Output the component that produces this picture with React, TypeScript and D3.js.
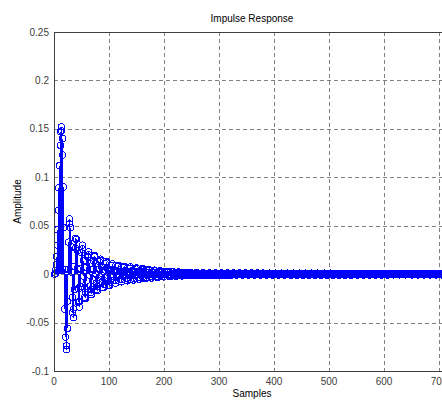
import React from 'react';
import * as d3 from 'd3';

const title = 'Impulse Response';
const xLabel = 'Samples';
const yLabel = 'Amplitude';
const xDomain = [0, 720];
const yDomain = [-0.1, 0.25];
const xTicks = [0, 100, 200, 300, 400, 500, 600, 700];
const yTicks = [-0.1, -0.05, 0, 0.05, 0.1, 0.15, 0.2, 0.25];
const yTickLabels = ['-0.1', '-0.05', '0', '0.05', '0.1', '0.15', '0.2', '0.25'];

// amplitude of each sample, index = sample number
const impulse = [
  0, 0.001, 0.004, 0.010, 0.018, 0.030, 0.046, 0.066, 0.089, 0.112,
  0.133, 0.147, 0.152, 0.148, 0.140, 0.123, 0.090, 0.048, 0.005, -0.036,
  -0.065, -0.078, -0.074, -0.056, -0.028, 0.005, 0.033, 0.052, 0.057, 0.048,
  0.028, 0.002, -0.024, -0.040, -0.045, -0.036, -0.016, 0.008, 0.027, 0.037,
  0.036, 0.024, 0.005, -0.015, -0.029, -0.034, -0.028, -0.013, 0.006, 0.022,
  0.030, 0.026, 0.014, -0.002, -0.015, -0.024, -0.025, -0.019, -0.007, 0.007, 0.018,
  0.023, 0.020, 0.011, -0.001, -0.012, -0.019, -0.021, -0.016, -0.006, 0.005, 0.014,
  0.019, 0.018, 0.011, 0.001, -0.009, -0.016, -0.017, -0.013, -0.005, 0.005, 0.0125,
  0.0155, 0.014, 0.008, -0.001, -0.008, -0.0135, -0.014, -0.0105, -0.004, 0.004, 0.0105,
  0.013, 0.0115, 0.006, -0.001, -0.0072, -0.0112, -0.0115, -0.0082, -0.0025, 0.0035, 0.0085,
  0.0105, 0.0092, 0.0048, -0.0008, -0.006, -0.0091, -0.0094, -0.0068, -0.002, 0.003, 0.0075,
  0.0092, 0.0080, 0.0042, -0.0006, -0.0050, -0.0077, -0.0080, -0.0058, -0.0016, 0.0028, 0.0066,
  0.0082, 0.0071, 0.0037, -0.0005, -0.0044, -0.0067, -0.0070, -0.0051, -0.0014, 0.0026, 0.0060,
  0.0073, 0.0062, 0.0032, -0.0005, -0.0039, -0.0059, -0.0061, -0.0045, -0.0012, 0.0023, 0.0053,
  0.0064, 0.0054, 0.0028, -0.0004, -0.0034, -0.0052, -0.0053, -0.0039, -0.0010, 0.0021, 0.0047,
  0.0056, 0.0047, 0.0024, -0.0004, -0.0030, -0.0045, -0.0046, -0.0034, -0.0009, 0.0018, 0.0041,
  0.0048, 0.0040, 0.0021, -0.0003, -0.0026, -0.0039, -0.0040, -0.0029, -0.0008, 0.0016, 0.0035,
  0.0041, 0.0035, 0.0018, -0.0003, -0.0022, -0.0033, -0.0034, -0.0025, -0.0007, 0.0014, 0.0030,
  0.0035, 0.0030, 0.0015, -0.0003, -0.0019, -0.0028, -0.0029, -0.0021, -0.0006, 0.0012, 0.0026,
  0.0030, 0.0025, 0.0013, -0.0002, -0.0016, -0.0024, -0.0025, -0.0018, -0.0005, 0.0010, 0.0022,
  0.0026, 0.0022, 0.0011, -0.0002, -0.0014, -0.0021, -0.0021, -0.0015, -0.0004, 0.0009, 0.0019,
  0.0022, 0.0019, 0.0010, -0.0002, -0.0012, -0.0018, -0.0018, -0.0013, -0.0004, 0.0008, 0.0017,
  0.0019, 0.0016, 0.0008, -0.0002, -0.0011, -0.0016, -0.0016, -0.0011, -0.0003, 0.0007, 0.0015,
  0.0017, 0.0014, 0.0007, -0.0002, -0.0010, -0.0014, -0.0014, -0.0010, -0.0003, 0.0006, 0.0013,
  0.0015, 0.0012, 0.0006, -0.0002, -0.0009, -0.0013, -0.0013, -0.0009, -0.0002, 0.0006, 0.0012,
  0.0013, 0.0011, 0.0005, -0.0002, -0.0009, -0.0012, -0.0012, -0.0009, -0.0002, 0.0005, 0.0011,
  0.0013, 0.0011, 0.0005, -0.0002, -0.0009, -0.0012, -0.0012, -0.0009, -0.0002, 0.0005, 0.0011,
  0.0013, 0.0011, 0.0006, -0.0002, -0.0008, -0.0012, -0.0012, -0.0008, -0.0002, 0.0005, 0.0011,
  0.0013, 0.0011, 0.0005, -0.0002, -0.0009, -0.0012, -0.0012, -0.0009, -0.0002, 0.0005, 0.0011,
  0.0012, 0.0010, 0.0005, -0.0002, -0.0008, -0.0012, -0.0012, -0.0008, -0.0002, 0.0005, 0.0010,
  0.0012, 0.0010, 0.0005, -0.0002, -0.0008, -0.0011, -0.0011, -0.0008, -0.0002, 0.0005, 0.0010,
  0.0012, 0.0010, 0.0005, -0.0002, -0.0008, -0.0011, -0.0011, -0.0008, -0.0002, 0.0005, 0.0010,
  0.0012, 0.0010, 0.0005, -0.0002, -0.0008, -0.0011, -0.0011, -0.0008, -0.0002, 0.0005, 0.0010,
  0.0012, 0.0010, 0.0005, -0.0002, -0.0008, -0.0011, -0.0011, -0.0008, -0.0002, 0.0005, 0.0010,
  0.0012, 0.0010, 0.0005, -0.0002, -0.0008, -0.0011, -0.0011, -0.0008, -0.0002, 0.0005, 0.0010,
  0.0011, 0.0009, 0.0005, -0.0002, -0.0007, -0.0011, -0.0011, -0.0007, -0.0002, 0.0005, 0.0009,
  0.0011, 0.0009, 0.0005, -0.0002, -0.0007, -0.0011, -0.0011, -0.0007, -0.0002, 0.0005, 0.0009,
  0.0011, 0.0009, 0.0005, -0.0002, -0.0007, -0.0011, -0.0011, -0.0007, -0.0002, 0.0005, 0.0009,
  0.0011, 0.0009, 0.0005, -0.0002, -0.0007, -0.0010, -0.0010, -0.0007, -0.0002, 0.0005, 0.0009,
  0.0011, 0.0009, 0.0005, -0.0002, -0.0007, -0.0010, -0.0010, -0.0007, -0.0002, 0.0005, 0.0009,
  0.0011, 0.0009, 0.0004, -0.0002, -0.0007, -0.0010, -0.0010, -0.0007, -0.0002, 0.0004, 0.0009,
  0.0011, 0.0009, 0.0004, -0.0002, -0.0007, -0.0010, -0.0010, -0.0007, -0.0002, 0.0004, 0.0009,
  0.0010, 0.0009, 0.0004, -0.0001, -0.0007, -0.0010, -0.0010, -0.0007, -0.0001, 0.0004, 0.0009,
  0.0010, 0.0009, 0.0004, -0.0001, -0.0007, -0.0010, -0.0010, -0.0007, -0.0001, 0.0004, 0.0009,
  0.0010, 0.0008, 0.0004, -0.0001, -0.0007, -0.0010, -0.0010, -0.0007, -0.0001, 0.0004, 0.0008,
  0.0010, 0.0008, 0.0004, -0.0001, -0.0006, -0.0009, -0.0009, -0.0006, -0.0001, 0.0004, 0.0008,
  0.0010, 0.0008, 0.0004, -0.0001, -0.0006, -0.0009, -0.0009, -0.0006, -0.0001, 0.0004, 0.0008,
  0.0009, 0.0008, 0.0004, -0.0001, -0.0006, -0.0009, -0.0009, -0.0006, -0.0001, 0.0004, 0.0008,
  0.0009, 0.0008, 0.0004, -0.0001, -0.0006, -0.0009, -0.0009, -0.0006, -0.0001, 0.0004, 0.0008,
  0.0009, 0.0008, 0.0004, -0.0001, -0.0006, -0.0009, -0.0009, -0.0006, -0.0001, 0.0004, 0.0008,
  0.0009, 0.0008, 0.0004, -0.0001, -0.0006, -0.0009, -0.0009, -0.0006, -0.0001, 0.0004, 0.0008,
  0.0009, 0.0008, 0.0004, -0.0001, -0.0006, -0.0009, -0.0009, -0.0006, -0.0001, 0.0004, 0.0008,
  0.0009, 0.0008, 0.0004, -0.0001, -0.0006, -0.0009, -0.0009, -0.0006, -0.0001, 0.0004, 0.0008,
  0.0009, 0.0008, 0.0004, -0.0001, -0.0006, -0.0009, -0.0009, -0.0006, -0.0001, 0.0004, 0.0008,
  0.0009, 0.0008, 0.0004, -0.0001, -0.0006, -0.0009, -0.0009, -0.0006, -0.0001, 0.0004, 0.0008,
  0.0009, 0.0008, 0.0004, -0.0001, -0.0006, -0.0009, -0.0009, -0.0006, -0.0001, 0.0004, 0.0008,
  0.0009, 0.0007, 0.0004, -0.0001, -0.0006, -0.0008, -0.0008, -0.0006, -0.0001, 0.0004, 0.0007,
  0.0009, 0.0007, 0.0004, -0.0001, -0.0006, -0.0008, -0.0008, -0.0006, -0.0001, 0.0004, 0.0007,
  0.0009, 0.0007, 0.0004, -0.0001, -0.0006, -0.0008, -0.0008, -0.0006, -0.0001, 0.0004, 0.0007,
  0.0008, 0.0007, 0.0003, -0.0001, -0.0005, -0.0008, -0.0008, -0.0005, -0.0001, 0.0003, 0.0007,
  0.0008, 0.0007, 0.0003, -0.0001, -0.0005, -0.0008, -0.0008, -0.0005, -0.0001, 0.0003, 0.0007,
  0.0008, 0.0007, 0.0003, -0.0001, -0.0005, -0.0008, -0.0008, -0.0005, -0.0001, 0.0003, 0.0007,
  0.0008, 0.0007, 0.0003, -0.0001, -0.0005, -0.0008, -0.0008, -0.0005, -0.0001, 0.0003, 0.0007,
  0.0008, 0.0007, 0.0003, -0.0001, -0.0005, -0.0007, -0.0007, -0.0005, -0.0001, 0.0003, 0.0007,
  0.0008, 0.0007, 0.0003, -0.0001, -0.0005, -0.0007, -0.0007, -0.0005, -0.0001, 0.0003, 0.0007,
  0.0008, 0.0007, 0.0003, -0.0001, -0.0005, -0.0007, -0.0007, -0.0005, -0.0001, 0.0003, 0.0007,
  0.0008,
];

const FONT = '"Liberation Sans", Arial, Helvetica, sans-serif';

export default function App() {
  const W = 442;
  const H = 401;
  const left = 54;
  const right = 450;
  const top = 32;
  const bottom = 371;
  const x = d3.scaleLinear().domain(xDomain).range([left, right]);
  const y = d3.scaleLinear().domain(yDomain).range([bottom, top]);
  const y0 = y(0);
  const blue = '#0000ff';
  const axisColor = '#404040';
  const gridColor = '#808080';

  return (
    <svg
      width={W}
      height={H}
      viewBox={`0 0 ${W} ${H}`}
      style={{ position: 'fixed', left: 0, top: 0, background: '#fff' }}
      fontFamily={FONT}
    >
      <rect x={0} y={0} width={W} height={H} fill="#fff" />
      {/* grid */}
      <g stroke={gridColor} strokeWidth={1} strokeDasharray="4,3" shapeRendering="crispEdges">
        {xTicks.filter((t) => t !== 0).map((t) => (
          <line key={'gx' + t} x1={Math.round(x(t)) + 0.5} x2={Math.round(x(t)) + 0.5} y1={top} y2={bottom} />
        ))}
        {yTicks.filter((t) => t !== yDomain[0] && t !== yDomain[1]).map((t) => (
          <line key={'gy' + t} x1={left} x2={right} y1={Math.round(y(t)) + 0.5} y2={Math.round(y(t)) + 0.5} />
        ))}
      </g>
      {/* stems */}
      <g stroke={blue} strokeWidth={1} shapeRendering="crispEdges">
        {impulse.map((v, i) => (
          <line key={'s' + i} x1={Math.round(x(i)) + 0.5} x2={Math.round(x(i)) + 0.5} y1={y0} y2={y(v)} />
        ))}
      </g>
      {/* markers */}
      <g stroke={blue} strokeWidth={1} fill="none" shapeRendering="crispEdges">
        {impulse.map((v, i) => (
          <circle key={'m' + i} cx={Math.round(x(i)) + 0.5} cy={y(v)} r={3.2} />
        ))}
      </g>
      {/* box */}
      <g stroke={axisColor} strokeWidth={1} shapeRendering="crispEdges" fill="none">
        <line x1={left + 0.5} x2={left + 0.5} y1={top} y2={bottom + 0.5} />
        <line x1={left} x2={right} y1={top + 0.5} y2={top + 0.5} />
        <line x1={left} x2={right} y1={bottom + 0.5} y2={bottom + 0.5} />
      </g>
      {/* y tick labels */}
      <g fontSize={10} fill="#404040" textAnchor="end">
        {yTicks.map((t, i) => (
          <text key={'yt' + t} x={left - 5} y={y(t) + 3.5}>{yTickLabels[i]}</text>
        ))}
      </g>
      {/* x tick labels */}
      <g fontSize={10} fill="#404040" textAnchor="middle">
        {xTicks.map((t) => (
          <text key={'xt' + t} x={x(t)} y={bottom + 14}>{String(t)}</text>
        ))}
      </g>
      <text x={(left + right) / 2} y={22} fontSize={10} textAnchor="middle" fill="#000">{title}</text>
      <text x={(left + right) / 2} y={397} fontSize={10} textAnchor="middle" fill="#000">{xLabel}</text>
      <text transform={`translate(21, ${(top + bottom) / 2}) rotate(-90)`} fontSize={10} textAnchor="middle" fill="#000">{yLabel}</text>
    </svg>
  );
}
